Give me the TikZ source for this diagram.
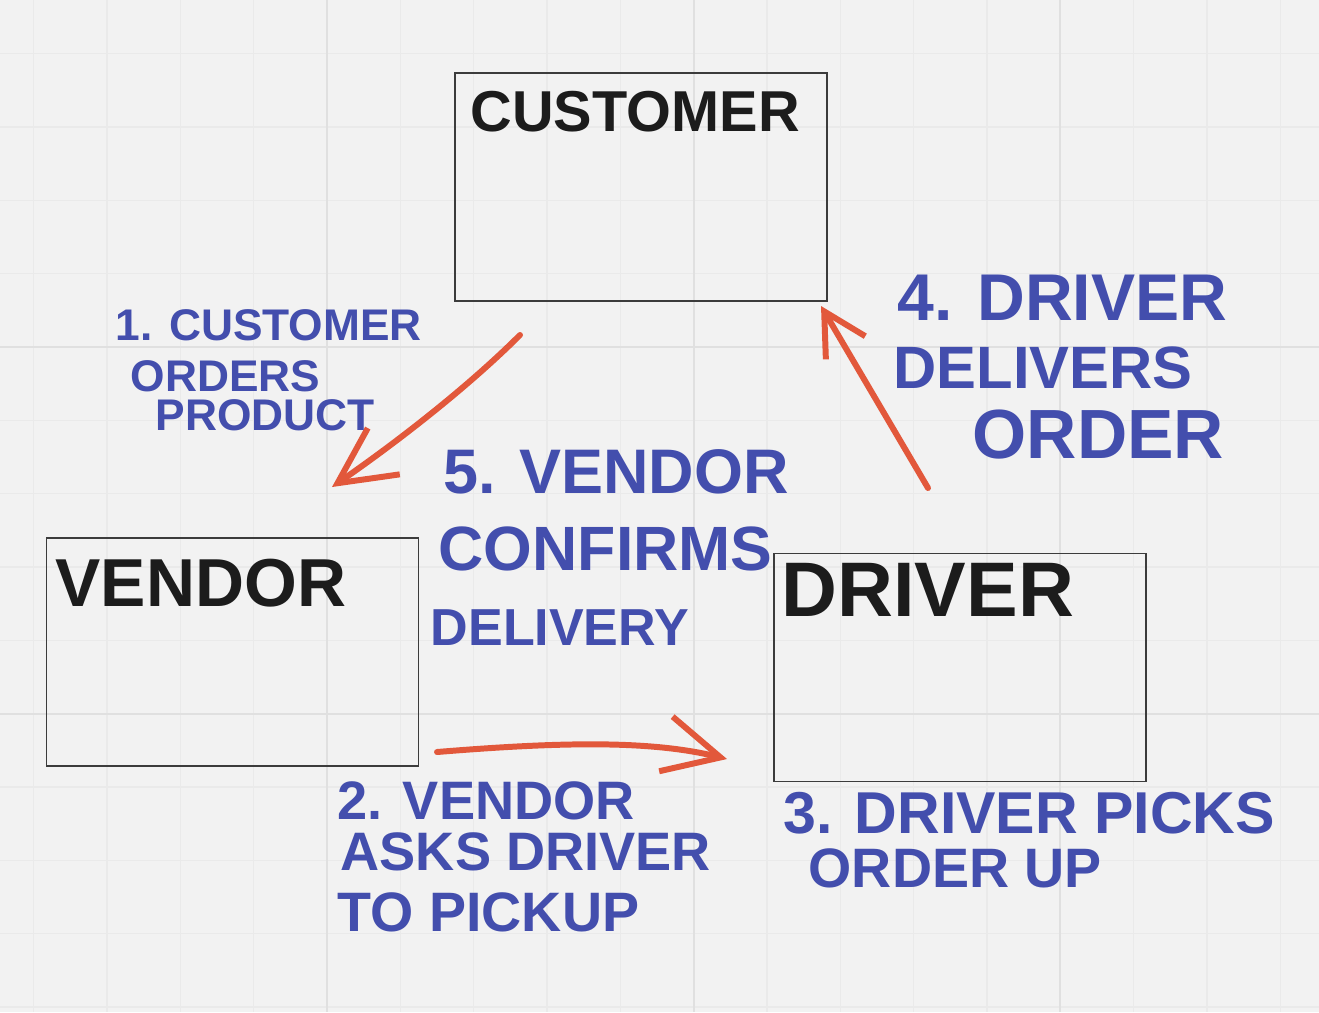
\documentclass[tikz,border=0pt]{standalone}
\usepackage{fontspec}
\setmainfont{Liberation Sans}
\usetikzlibrary{arrows.meta}

\definecolor{paper}{HTML}{F2F2F2}
\definecolor{gridminor}{HTML}{EAEAEA}
\definecolor{gridmajor}{HTML}{E0E0E0}
\definecolor{boxline}{HTML}{3C3C3C}
\definecolor{ink}{HTML}{1C1C1C}
\definecolor{pen}{HTML}{434EAD}
\definecolor{marker}{HTML}{E2583B}

\newcommand{\fs}[1]{\fontsize{#1}{#1}\selectfont\bfseries}

\begin{document}
\begin{tikzpicture}[x=0.01cm,y=-0.01cm,
		box/.style={draw=boxline,line width=0.5pt,minimum width=3.72cm,minimum height=2.28cm,inner sep=0pt},
		title/.style={text=ink,anchor=west,inner sep=0pt},
		note/.style={text=pen,anchor=west,inner sep=0pt},
		marked/.style={draw=marker,line width=1.7pt,line cap=round,line join=round,
			-{Straight Barb[length=16pt,width=16pt]}}]
		\def \gap {73.33}
		
		%paper and grid
		\fill[paper] (0,0) rectangle (1319,1012);
		\useasboundingbox (0,0) rectangle (1319,1012);
		\foreach \k in {-4,...,13}
		\draw[gridminor,line width=0.4pt] ({327+\gap*\k},0) -- ({327+\gap*\k},1012);
		\foreach \k in {-4,...,9}
		\draw[gridminor,line width=0.4pt] (0,{347+\gap*\k}) -- (1319,{347+\gap*\k});
		\foreach \k in {0,5,10}
		\draw[gridmajor,line width=0.6pt] ({327+\gap*\k},0) -- ({327+\gap*\k},1012);
		\foreach \k in {0,5}
		\draw[gridmajor,line width=0.6pt] (0,{347+\gap*\k}) -- (1319,{347+\gap*\k});
		
		%boxes
		\node[box] (customer) at (641,187) {};
		\node[box] (vendor) at (232.5,652) {};
		\node[box] (driver) at (960,667.5) {};
		\node[title] (customername) at (470,112) {\fs{16.4}CUSTOMER};
		\node[title] (vendorname) at (55,583) {\fs{19.3}VENDOR};
		\node[title] (drivername) at (781,590) {\fs{22}DRIVER};
		
		%arrows
		\coordinate (ordertail) at (520,335);
		\coordinate (orderhead) at (332,487);
		\coordinate (asktail) at (437,752);
		\coordinate (askhead) at (727,759);
		\coordinate (delivertail) at (928,488);
		\coordinate (deliverhead) at (821,306);
		\draw[marked] (ordertail) .. controls (470,385) and (400,440) .. (orderhead);
		\draw[marked] (asktail) .. controls (560,742) and (650,740) .. (askhead);
		\draw[marked,-{Straight Barb[length=12pt,width=13pt]}] (delivertail) -- (deliverhead);
		
		%step notes
		%1
		\node[note] (stepone) at (115,325) {\fs{12.6}1. CUSTOMER};
		\node[note] (steponeb) at (130,376) {\fs{12.6}ORDERS};
		\node[note] (steponec) at (155,415) {\fs{12.6}PRODUCT};
		%2
		\node[note] (steptwo) at (337,801) {\fs{15.4}2. VENDOR};
		\node[note] (steptwob) at (340,852) {\fs{15.4}ASKS DRIVER};
		\node[note] (steptwoc) at (337,912) {\fs{15.8}TO PICKUP};
		%3
		\node[note] (stepthree) at (783,813) {\fs{16.8}3. DRIVER PICKS};
		\node[note] (stepthreeb) at (808,868) {\fs{15.8}ORDER UP};
		%4
		\node[note] (stepfour) at (897,298) {\fs{18.8}4. DRIVER};
		\node[note] (stepfourb) at (893,368) {\fs{17}DELIVERS};
		\node[note] (stepfourc) at (972,435) {\fs{19.8}ORDER};
		%5
		\node[note] (stepfive) at (443,472) {\fs{17.9}5. VENDOR};
		\node[note] (stepfiveb) at (438,549) {\fs{17.8}CONFIRMS};
		\node[note] (stepfivec) at (430,628) {\fs{14.8}DELIVERY};
\end{tikzpicture}
\end{document}
